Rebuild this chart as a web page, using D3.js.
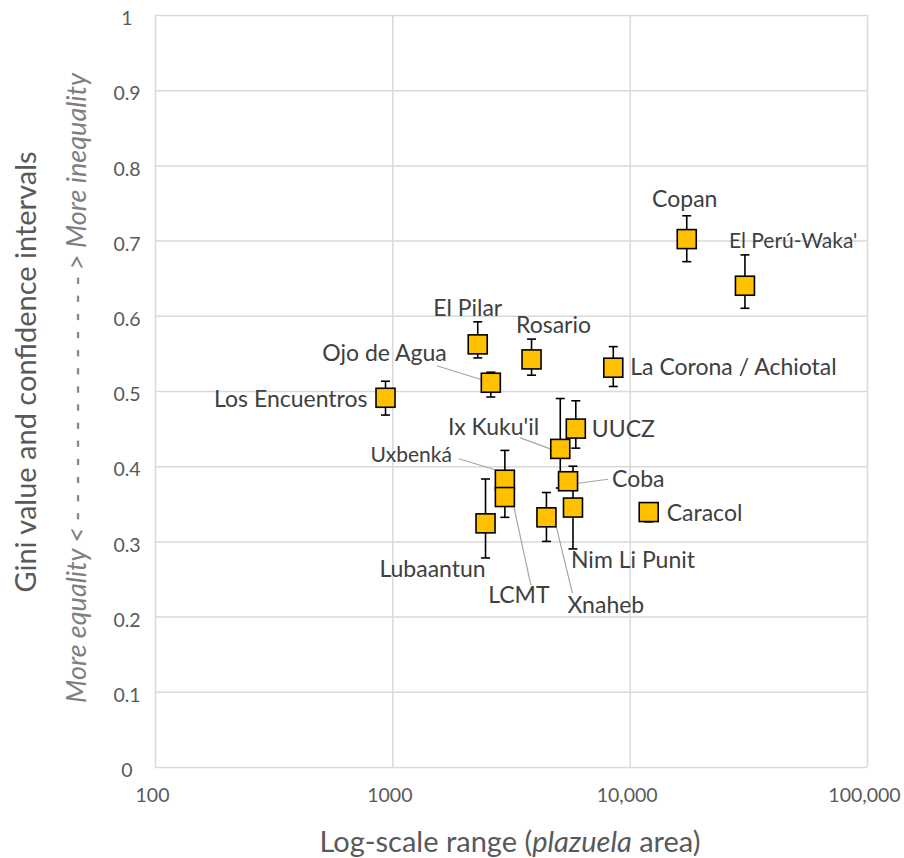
<!doctype html>
<html>
<head>
  <meta charset="UTF-8">
  <title>Gini value vs plazuela area</title>
  <script src="https://d3js.org/d3.v7.min.js"></script>
  <style>
    body { margin: 0; background: #fff; }
    text { font-family: Lato, "Open Sans", sans-serif; }
  </style>
</head>
<body>
<div id="chart"></div>
<script>
// data
var sites  = ["Los Encuentros", "Ojo de Agua", "El Pilar", "Rosario", "La Corona / Achiotal",
              "Copan", "El Perú-Waka'", "Ix Kuku'il", "UUCZ", "Uxbenká", "LCMT", "Coba",
              "Nim Li Punit", "Xnaheb", "Lubaantun", "Caracol"];
var area   = [936, 2600, 2290, 3860, 8530, 17400, 30600, 5100, 5930, 2980, 2980, 5500, 5770, 4460, 2470, 12030];
var gini   = [0.491, 0.511, 0.562, 0.542, 0.531, 0.702, 0.640, 0.423, 0.450, 0.382, 0.359, 0.380, 0.345, 0.332, 0.324, 0.339];
var ciLow  = [0.468, 0.492, 0.544, 0.521, 0.506, 0.672, 0.610, 0.371, 0.424, 0.370, 0.332, 0.370, 0.290, 0.300, 0.278, 0.326];
var ciHigh = [0.513, 0.525, 0.592, 0.569, 0.559, 0.733, 0.681, 0.490, 0.487, 0.421, 0.370, 0.392, 0.400, 0.365, 0.383, 0.350];

var xTicks = [100, 1000, 10000, 100000];
var xTickLabels = ["100", "1000", "10,000", "100,000"];
var yTicks = [0, 0.1, 0.2, 0.3, 0.4, 0.5, 0.6, 0.7, 0.8, 0.9, 1];
var yTickLabels = ["0", "0.1", "0.2", "0.3", "0.4", "0.5", "0.6", "0.7", "0.8", "0.9", "1"];

// label placement (offsets from the marker centre), leader lines where the chart has them
var labelPos = {
  "Los Encuentros":       {dx: -18, dy: 9,   anchor: "end"},
  "Ojo de Agua":          {dx: -44, dy: -22, anchor: "end",    line: [-54, -17, -9, -3]},
  "El Pilar":             {dx: -10, dy: -28, anchor: "middle"},
  "Rosario":              {dx: 22,  dy: -26, anchor: "middle"},
  "La Corona / Achiotal": {dx: 17,  dy: 7,   anchor: "start"},
  "Copan":                {dx: -2,  dy: -32, anchor: "middle"},
  "El Perú-Waka'":        {dx: -16, dy: -38, anchor: "start",  small: true},
  "Ix Kuku'il":           {dx: -21, dy: -14, anchor: "end",    line: [-40, -11, -10, 0]},
  "UUCZ":                 {dx: 16,  dy: 8,   anchor: "start"},
  "Uxbenká":              {dx: -53, dy: -18, anchor: "end",    line: [-46, -21, -10, -10], small: true},
  "LCMT":                 {dx: 14,  dy: 106, anchor: "middle", line: [9, 10, 26, 88]},
  "Coba":                 {dx: 44,  dy: 6,   anchor: "start",  line: [40, -2, 10, 2]},
  "Nim Li Punit":         {dx: -2,  dy: 60,  anchor: "start"},
  "Xnaheb":               {dx: 21,  dy: 96,  anchor: "start",  line: [10, 10, 26, 76]},
  "Lubaantun":            {dx: -53, dy: 54,  anchor: "middle"},
  "Caracol":              {dx: 18,  dy: 9,   anchor: "start"}
};

var W = 904, H = 858;
var pLeft = 155, pRight = 867, pTop = 15, pBottom = 767;

var svg = d3.select("#chart").append("svg")
    .attr("width", W)
    .attr("height", H);

var x = d3.scaleLog().domain([100, 100000]).range([pLeft, pRight]);
var y = d3.scaleLinear().domain([0, 1]).range([pBottom, pTop]);

// gridlines + tick labels
var yAxis = d3.axisLeft(y)
    .tickValues(yTicks)
    .tickFormat(function (d, i) { return yTickLabels[i]; })
    .tickSize(-(pRight - pLeft))
    .tickPadding(0);

var gy = svg.append("g")
    .attr("transform", "translate(" + pLeft + ",0)")
    .call(yAxis);
gy.select(".domain").remove();
gy.selectAll("line").attr("stroke", "#d9d9d9").attr("stroke-width", 1.5);
gy.selectAll("text")
    .attr("x", -28)
    .attr("dy", "0.5em")
    .attr("text-anchor", "middle")
    .attr("fill", "#595959")
    .attr("font-size", "19.5px");

var xAxis = d3.axisBottom(x)
    .tickValues(xTicks)
    .tickFormat(function (d, i) { return xTickLabels[i]; })
    .tickSize(-(pBottom - pTop))
    .tickPadding(0);

var gx = svg.append("g")
    .attr("transform", "translate(0," + pBottom + ")")
    .call(xAxis);
gx.select(".domain").remove();
gx.selectAll("line").attr("stroke", "#d9d9d9").attr("stroke-width", 1.5);
gx.selectAll("text")
    .attr("x", -3)
    .attr("y", 28)
    .attr("dy", "0.35em")
    .attr("fill", "#595959")
    .attr("font-size", "19.5px");

// axis titles
svg.append("text")
    .attr("x", 510)
    .attr("y", 852)
    .attr("text-anchor", "middle")
    .attr("fill", "#595959")
    .attr("font-size", "29px")
    .html('Log-scale range (<tspan font-style="italic">plazuela</tspan> area)');

svg.append("text")
    .attr("transform", "translate(36,372) rotate(-90)")
    .attr("text-anchor", "middle")
    .attr("fill", "#595959")
    .attr("font-size", "29px")
    .text("Gini value and confidence intervals");

// "More equality <- - - -> More inequality", stretched between y=703 and y=73
var hint = svg.append("g")
    .attr("transform", "translate(86,0) rotate(-90)")
    .attr("fill", "#7f7f7f")
    .attr("font-size", "27px")
    .attr("font-style", "italic");
var hintLow = hint.append("text")
    .attr("x", -703)
    .attr("text-anchor", "start")
    .text("More equality <");
var hintHigh = hint.append("text")
    .attr("x", -73)
    .attr("text-anchor", "end")
    .text("> More inequality");
var dashStart = -703 + hintLow.node().getComputedTextLength() + 6;
var dashEnd = -73 - hintHigh.node().getComputedTextLength() - 6;
hint.append("text")
    .attr("x", dashStart)
    .attr("textLength", dashEnd - dashStart)
    .attr("lengthAdjust", "spacing")
    .text("- - - - - - - - - - - - - -");

var idx = d3.range(sites.length);

// leader lines
svg.append("g").selectAll("line")
    .data(idx.filter(function (i) { return labelPos[sites[i]].line; }))
    .enter().append("line")
    .attr("x1", function (i) { return x(area[i]) + labelPos[sites[i]].line[0]; })
    .attr("y1", function (i) { return y(gini[i]) + labelPos[sites[i]].line[1]; })
    .attr("x2", function (i) { return x(area[i]) + labelPos[sites[i]].line[2]; })
    .attr("y2", function (i) { return y(gini[i]) + labelPos[sites[i]].line[3]; })
    .attr("stroke", "#a6a6a6")
    .attr("stroke-width", 1.2);

// error bars
var eb = svg.append("g").attr("stroke", "#000").attr("stroke-width", 1.6);
var cap = 4.5;
eb.selectAll(".stem").data(idx).enter().append("line")
    .attr("x1", function (i) { return x(area[i]); })
    .attr("x2", function (i) { return x(area[i]); })
    .attr("y1", function (i) { return y(ciLow[i]); })
    .attr("y2", function (i) { return y(ciHigh[i]); });
eb.selectAll(".lo").data(idx).enter().append("line")
    .attr("x1", function (i) { return x(area[i]) - cap; })
    .attr("x2", function (i) { return x(area[i]) + cap; })
    .attr("y1", function (i) { return y(ciLow[i]); })
    .attr("y2", function (i) { return y(ciLow[i]); });
eb.selectAll(".hi").data(idx).enter().append("line")
    .attr("x1", function (i) { return x(area[i]) - cap; })
    .attr("x2", function (i) { return x(area[i]) + cap; })
    .attr("y1", function (i) { return y(ciHigh[i]); })
    .attr("y2", function (i) { return y(ciHigh[i]); });

// square markers
var s = 19;
svg.append("g").selectAll("rect")
    .data(idx)
    .enter().append("rect")
    .attr("x", function (i) { return x(area[i]) - s / 2; })
    .attr("y", function (i) { return y(gini[i]) - s / 2; })
    .attr("width", s)
    .attr("height", s)
    .attr("fill", "#ffc000")
    .attr("stroke", "#000")
    .attr("stroke-width", 1.6);

// site labels
svg.append("g").selectAll("text")
    .data(idx)
    .enter().append("text")
    .attr("x", function (i) { return x(area[i]) + labelPos[sites[i]].dx; })
    .attr("y", function (i) { return y(gini[i]) + labelPos[sites[i]].dy; })
    .attr("text-anchor", function (i) { return labelPos[sites[i]].anchor; })
    .attr("fill", "#404040")
    .attr("font-size", function (i) { return labelPos[sites[i]].small ? "21px" : "23px"; })
    .text(function (i) { return sites[i]; });
</script>
</body>
</html>
